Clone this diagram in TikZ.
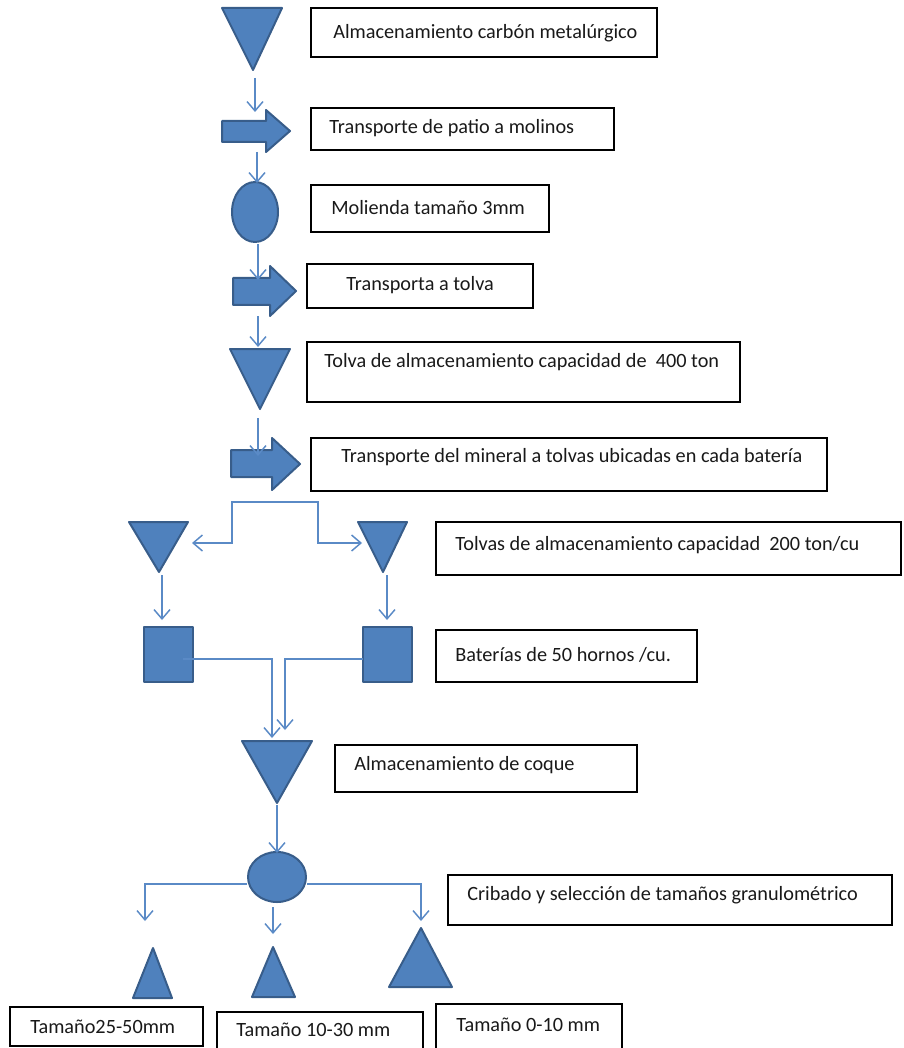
\documentclass[tikz,border=0pt]{standalone}
\usepackage{fontspec}
\setmainfont{Carlito}
\usetikzlibrary{arrows.meta,fit}
\definecolor{shapefill}{HTML}{4F81BD}
\definecolor{shapeedge}{HTML}{385D8A}
\definecolor{flowline}{HTML}{5A8AC6}
\begin{document}
\begin{tikzpicture}[x=0.75pt,y=-0.75pt,
  box/.style={draw=black, line width=1.1pt, inner sep=0pt},
  lbl/.style={anchor=west, inner sep=0pt, font=\fontsize{15.2}{18}\selectfont, text=black!90},
  sym/.style={fill=shapefill, draw=shapeedge, line width=1.5pt, line join=round},
  flow/.style={draw=flowline, line width=1.1pt, -{Straight Barb[length=7pt,width=12pt]}},
  link/.style={draw=flowline, line width=1.1pt}]
\useasboundingbox (0,0) rectangle (903,1048);

% ---------- text boxes ----------
\node[box, fit={(311,8) (657,57)}] (b1) {};
\node[lbl] (l1) at (333,33) {Almacenamiento carbón metalúrgico};
\node[box, fit={(311,108) (614,150)}] (b2) {};
\node[lbl] (l2) at (329,128) {Transporte de patio a molinos};
\node[box, fit={(311,185) (549,232)}] (b3) {};
\node[lbl] (l3) at (331,208) {Molienda tamaño 3mm};
\node[box, fit={(307,264) (533,308)}] (b4) {};
\node[lbl] (l4) at (346,285) {Transporta a tolva};
\node[box, fit={(307,342) (740,402)}] (b5) {};
\node[lbl] (l5) at (324,362) {Tolva de almacenamiento capacidad de\ \ 400 ton};
\node[box, fit={(311,438) (827,491)}] (b6) {};
\node[lbl] (l6) at (341,457) {Transporte del mineral a tolvas ubicadas en cada batería};
\node[box, fit={(436,522) (901,575)}] (b7) {};
\node[lbl] (l7) at (455,545) {Tolvas de almacenamiento capacidad\ \ 200 ton/cu};
\node[box, fit={(436,630) (697,682)}] (b8) {};
\node[lbl] (l8) at (455,655) {Baterías de 50 hornos /cu.};
\node[box, fit={(335,745) (637,792)}] (b9) {};
\node[lbl] (l9) at (354,765) {Almacenamiento de coque};
\node[box, fit={(448,875) (892,925)}] (b13) {};
\node[lbl] (l13) at (467,895) {Cribado y selección de tamaños granulométrico};
\node[box, fit={(10,1007) (203,1046)}] (b10) {};
\node[lbl] (l10) at (30,1027) {Tamaño25-50mm};
\node[box, fit={(217,1012) (423,1052)}] (b11) {};
\node[lbl] (l11) at (236,1030) {Tamaño 10-30 mm};
\node[box, fit={(436,1004) (622,1052)}] (b12) {};
\node[lbl] (l12) at (456,1025) {Tamaño 0-10 mm};

% ---------- process symbols ----------
% storage triangles (pointing down)
\draw[sym] (222,8) -- (282,8) -- (253,70) -- cycle;
\draw[sym] (230,349) -- (290,349) -- (260,409) -- cycle;
\draw[sym] (129,522) -- (188,522) -- (159,572) -- cycle;
\draw[sym] (358,522) -- (407,522) -- (383,572) -- cycle;
\draw[sym] (242,741) -- (312,741) -- (277,803) -- cycle;
% transport block arrows
\draw[sym] (222,121) -- (266,121) -- (266,110) -- (290,131) -- (266,152) -- (266,142) -- (222,142) -- cycle;
\draw[sym] (233,278) -- (270,278) -- (270,266) -- (296,291) -- (270,316) -- (270,305) -- (233,305) -- cycle;
\draw[sym] (231,450) -- (272,450) -- (272,438) -- (300,464) -- (272,490) -- (272,477) -- (231,477) -- cycle;
% operations
\draw[sym] (255,212) ellipse [x radius=23, y radius=30];
\draw[sym] (277,877) ellipse [x radius=29, y radius=25];
% coke ovens
\draw[sym] (144,627) rectangle (193,682);
\draw[sym] (363,627) rectangle (412,682);
% product piles (pointing up)
\draw[sym] (133,998) -- (172,998) -- (153,948) -- cycle;
\draw[sym] (252,997) -- (295,997) -- (273,947) -- cycle;
\draw[sym] (389,987) -- (452,987) -- (421,928) -- cycle;

% ---------- connector end points ----------
\coordinate (t1out) at (255,78);  \coordinate (f1in) at (255,112);
\coordinate (f1out) at (257,152); \coordinate (c1in) at (257,183);
\coordinate (c1out) at (258,244); \coordinate (f2in) at (258,280);
\coordinate (f2out) at (258,316); \coordinate (t2in) at (258,347);
\coordinate (t2out) at (258,418); \coordinate (f3in) at (258,456);
\coordinate (split) at (275,502);
\coordinate (tlin) at (192,543);  \coordinate (trin) at (362,543);
\coordinate (tlout) at (162,575); \coordinate (slin) at (162,620);
\coordinate (trout) at (387,575); \coordinate (srin) at (387,620);
\coordinate (slout) at (183,659); \coordinate (srout) at (363,659);
\coordinate (t5inl) at (272,738); \coordinate (t5inr) at (285,730);
\coordinate (t5out) at (277,805); \coordinate (c2in) at (277,853);
\coordinate (c2l) at (247,884);   \coordinate (c2r) at (307,884);
\coordinate (c2b) at (273,907);
\coordinate (p1in) at (145,921);  \coordinate (p2in) at (273,934);
\coordinate (p3in) at (421,921);

% ---------- connectors ----------
\draw[flow] (t1out) -- (f1in);
\draw[flow] (f1out) -- (c1in);
\draw[flow] (c1out) -- (f2in);
\draw[flow] (f2out) -- (t2in);
\draw[flow] (t2out) -- (f3in);
\draw[flow] (split) -- (232,502) -- (232,543) -- (tlin);
\draw[flow] (split) -- (318,502) -- (318,543) -- (trin);
\draw[flow] (tlout) -- (slin);
\draw[flow] (trout) -- (srin);
\draw[flow] (slout) -- (272,659) -- (t5inl);
\draw[flow] (srout) -- (285,659) -- (t5inr);
\draw[flow] (t5out) -- (c2in);
\draw[flow] (c2l) -- (145,884) -- (p1in);
\draw[flow] (c2b) -- (p2in);
\draw[flow] (c2r) -- (421,884) -- (p3in);
\end{tikzpicture}
\end{document}
